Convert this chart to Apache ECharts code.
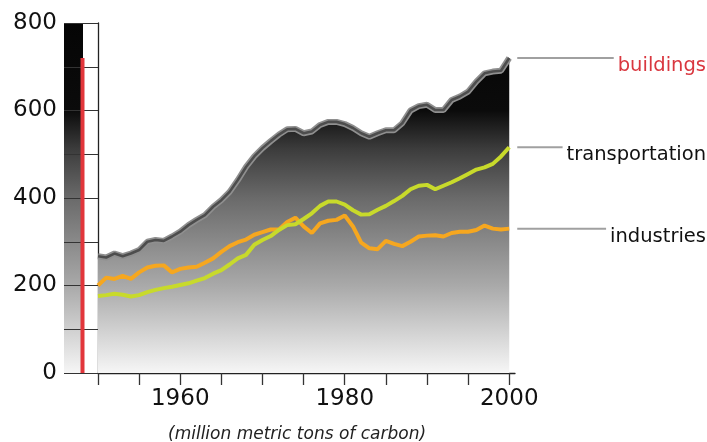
<!DOCTYPE html>
<html><head><meta charset="utf-8">
<script src="https://cdn.jsdelivr.net/npm/echarts@6/dist/echarts.min.js"></script>
<style>html,body{margin:0;padding:0;background:#fff}#c{width:707px;height:442px}</style>
</head><body><div id="c"></div>
<script>
// ---- data ----
const years = [1950,1951,1952,1953,1954,1955,1956,1957,1958,1959,1960,1961,1962,1963,1964,1965,1966,1967,1968,1969,1970,1971,1972,1973,1974,1975,1976,1977,1978,1979,1980,1981,1982,1983,1984,1985,1986,1987,1988,1989,1990,1991,1992,1993,1994,1995,1996,1997,1998,1999,2000];
const buildings = [267,264,273,267,273,281,300,304,302,312,323,338,350,361,380,395,414,441,471,495,514,530,545,557,558,548,552,567,574,574,569,560,548,540,548,555,555,571,600,610,613,601,601,624,632,643,666,685,689,691,720];
const transportation = [176,178,181,179,175,178,185,190,194,197,201,205,211,217,227,235,248,262,270,293,304,313,327,338,340,352,365,382,392,392,385,372,362,363,373,382,393,405,420,428,430,420,428,436,445,455,465,470,478,495,516];
const industries = [200,218,215,222,215,230,241,245,246,230,238,241,243,252,262,277,290,299,305,316,322,328,328,345,355,335,320,342,348,350,360,335,298,285,283,302,295,290,300,312,314,315,312,320,323,323,327,337,330,328,330];
const seriesNames = ['buildings','transportation','industries'];
const xTickValues = [1950,1955,1960,1965,1970,1975,1980,1985,1990,1995,2000];
const xLabelValues = [1960,1980,2000];
const yTickValues = [0,100,200,300,400,500,600,700,800];
const yLabelValues = [0,200,400,600,800];
const unitsNote = '(million metric tons of carbon)';

// ---- chart ----
const el = document.getElementById('c');
const chart = echarts.init(el, null, {renderer:'canvas'});
const GT = 23, GB = 373;
const grad = () => new echarts.graphic.LinearGradient(0, GT, 0, GB, [
  {offset:0, color:'#050505'},
  {offset:0.25, color:'#0b0b0b'},
  {offset:0.36, color:'#3c3c3c'},
  {offset:0.5, color:'#6a6a6a'},
  {offset:0.75, color:'#a9a9a9'},
  {offset:1, color:'#f6f6f6'}
], true);
const pairs = arr => years.map((y,i)=>[y, arr[i]]);
const labelColors = {buildings:'#d9373f', transportation:'#111', industries:'#111'};
const FONT = 'DejaVu Sans';

chart.setOption({
  animation:false,
  backgroundColor:'#fff',
  grid:[
    {left:98, top:GT, width:417, height:GB-GT},
    {left:64, top:GT, width:37, height:GB-GT}
  ],
  xAxis:[
    {type:'value', gridIndex:0, min:1950, max:2000.7,
     axisLine:{show:true, lineStyle:{color:'#222', width:1.3}},
     axisTick:{show:true, length:12, customValues:xTickValues, lineStyle:{color:'#333', width:1.3}},
     axisLabel:{customValues:xLabelValues, formatter:v=>String(v), fontFamily:FONT, fontSize:23, color:'#111', margin:15},
     splitLine:{show:false}},
    {type:'category', gridIndex:1, data:['buildings'], show:false}
  ],
  yAxis:[
    {type:'value', gridIndex:0, min:0, max:800,
     axisLine:{show:true, lineStyle:{color:'#222', width:1.3}},
     axisTick:{show:true, length:34, customValues:yTickValues, lineStyle:{color:'#333', width:1.2}},
     axisLabel:{customValues:yLabelValues, formatter:v=>String(v), fontFamily:FONT, fontSize:23, color:'#111', margin:41},
     splitLine:{show:false}},
    {type:'value', gridIndex:1, min:0, max:800, show:false}
  ],
  series:[
    {name:'buildings', type:'line', xAxisIndex:0, yAxisIndex:0, data:pairs(buildings), symbol:'none',
     lineStyle:{color:'#8f8f8f', width:6}, areaStyle:{color:grad(), opacity:1}, z:2},
    {name:'buildingsCore', type:'line', data:pairs(buildings), symbol:'none',
     lineStyle:{color:'#4d4d4d', width:2.6}, z:3},
    {name:'industries', type:'line', data:pairs(industries), symbol:'none',
     lineStyle:{color:'#f6a71f', width:4}, z:4},
    {name:'transportation', type:'line', data:pairs(transportation), symbol:'none',
     lineStyle:{color:'#c8da2b', width:4}, z:5},
    {name:'buildingsTotal', type:'bar', xAxisIndex:1, yAxisIndex:1, data:[buildings[buildings.length-1]],
     barWidth:4, itemStyle:{color:'#e2363b'}, z:6}
  ]
});

// leader lines and end labels, positioned from data via the axes
const ctx = document.createElement('canvas').getContext('2d');
const lastYear = years[years.length-1];
const lastVals = {buildings:buildings[buildings.length-1], transportation:transportation[transportation.length-1], industries:industries[industries.length-1]};
const extra = [];
seriesNames.forEach(n=>{
  const p = chart.convertToPixel({gridIndex:0}, [lastYear, lastVals[n]]);
  const fs = 19.5;
  ctx.font = fs + 'px ' + FONT;
  const w = ctx.measureText(n).width;
  const right = 706;
  extra.push({type:'line', shape:{x1:p[0]+8, y1:p[1], x2:right-w-4, y2:p[1]}, style:{stroke:'#a0a0a0', lineWidth:2}});
  extra.push({type:'text', x:right, y:p[1]-2, style:{text:n, fill:labelColors[n], font:fs+'px '+FONT, textAlign:'right', textVerticalAlign:'top'}});
});
extra.push({type:'text', x:168, y:435, style:{text:unitsNote, fill:'#222', font:'italic 17px '+FONT, textAlign:'left', textVerticalAlign:'middle'}});
chart.setOption({graphic:[{type:'rect', z:-10, shape:{x:64, y:GT, width:19, height:GB-GT}, style:{fill:grad()}}].concat(extra)});
</script></body></html>
